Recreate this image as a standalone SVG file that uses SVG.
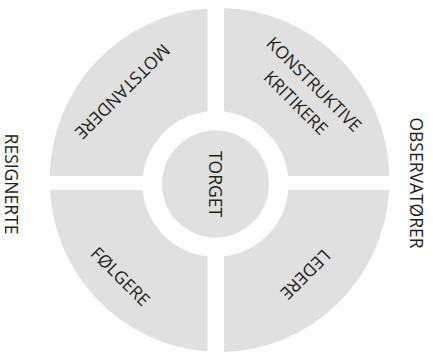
<svg xmlns="http://www.w3.org/2000/svg" width="433" height="354" viewBox="0 0 433 354">
<style>
.q{fill:#e0e0e0}
.t{font-family:"Open Sans","Liberation Sans",sans-serif;font-size:17.5px;fill:#231f20;text-anchor:middle;dominant-baseline:central}
</style>
<rect width="433" height="354" fill="#fff"/>
<g id="motstandere">
<path class="q" d="M207.5,176 L49.55,176 A170,172 0 0 1 207.5,8.43 Z"/>
<text class="t" transform="translate(123,92) rotate(135)">MOTSTANDERE</text>
</g>
<g id="konstruktive-kritikere">
<path class="q" d="M224,176 L224,8.06 A170,172 0 0 1 389.45,176 Z"/>
<text class="t" transform="translate(314.7,83.8) rotate(45)">KONSTRUKTIVE</text>
<text class="t" transform="translate(296.3,102.2) rotate(45)">KRITIKERE</text>
</g>
<g id="ledere">
<path class="q" d="M224,190 L389.2,190 A170,172 0 0 1 224,351.94 Z"/>
<text class="t" transform="translate(306,275) rotate(135)">LEDERE</text>
</g>
<g id="folgere">
<path class="q" d="M207.5,190 L207.5,351.57 A170,172 0 0 1 49.8,190 Z"/>
<text class="t" transform="translate(121,276) rotate(45)">FØLGERE</text>
</g>
<g id="torget">
<circle cx="215.5" cy="184" r="73" fill="#fff"/>
<circle class="q" cx="215.5" cy="184" r="53.5"/>
<text class="t" transform="translate(215.5,184) rotate(90)">TORGET</text>
</g>
<g id="resignerte">
<text class="t" transform="translate(11.5,184) rotate(90)">RESIGNERTE</text>
</g>
<g id="observatorer">
<text class="t" transform="translate(416.5,183) rotate(90)">OBSERVATØRER</text>
</g>
<g id="connectors"/>
</svg>
